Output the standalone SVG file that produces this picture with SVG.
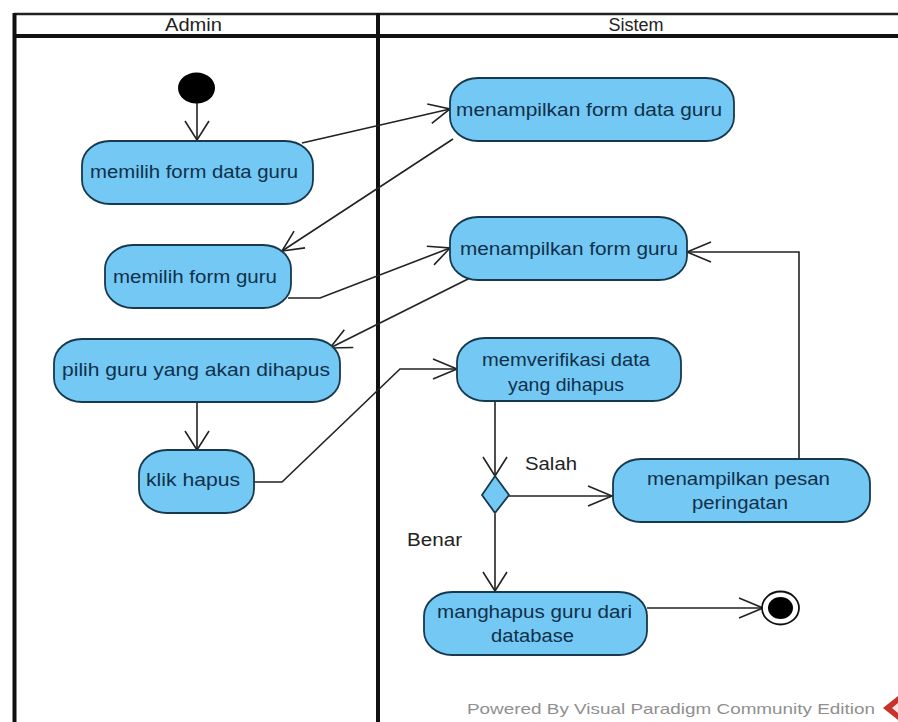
<svg xmlns="http://www.w3.org/2000/svg" width="898" height="722" viewBox="0 0 898 722">
<style>
text{font-family:"Liberation Sans",Arial,sans-serif;font-size:17.500px;text-anchor:middle;fill:#10304a}
.lane{fill:none;stroke:#111;stroke-width:4}
.top{fill:none;stroke:#222;stroke-width:2.600}
.act{fill:#74c8f4;stroke:#17394f;stroke-width:1.800}
.c{fill:none;stroke:#222;stroke-width:1.600}
.l{fill:#222}
</style>
<defs>
<marker id="a" markerUnits="userSpaceOnUse" markerWidth="30" markerHeight="30" refX="25" refY="12" orient="auto" overflow="visible"><path d="M4 2L25 12L4 22" fill="none" stroke="#222" stroke-width="1.600"/></marker>
<marker id="h" markerUnits="userSpaceOnUse" markerWidth="30" markerHeight="30" refX="25" refY="12" orient="auto" overflow="visible"><path d="M1 2L25 12L1 22" fill="none" stroke="#222" stroke-width="1.600"/></marker>
<marker id="v" markerUnits="userSpaceOnUse" markerWidth="30" markerHeight="30" refX="25" refY="12" orient="auto" overflow="visible"><path d="M6 0L25 12L6 24" fill="none" stroke="#222" stroke-width="1.600"/></marker>
</defs>
<rect width="898" height="722" fill="#fff"/>
<g id="swimlanes">
<path class="top" d="M14 14H898"/>
<path class="lane" d="M14.500 13V722M14 36H898M378 13V722"/>
<text class="l" x="193.500" y="31" textLength="57" lengthAdjust="spacingAndGlyphs">Admin</text><text class="l" x="636" y="31" textLength="55" lengthAdjust="spacingAndGlyphs">Sistem</text>
</g>
<g id="connectors">
<path class="c" marker-end="url(#v)" d="M197 103V140"/>
<path class="c" marker-end="url(#a)" d="M302 143L450 109"/>
<path class="c" marker-end="url(#a)" d="M453 139L282 251"/>
<path class="c" marker-end="url(#a)" d="M288 298H320L450 248"/>
<path class="c" marker-end="url(#a)" d="M470 278L330 348"/>
<path class="c" marker-end="url(#v)" d="M197 402V450"/>
<path class="c" marker-end="url(#h)" d="M253 482H282L400 369H457"/>
<path class="c" marker-end="url(#v)" d="M495 401V476"/>
<path class="c" marker-end="url(#h)" d="M509 496H612"/>
<path class="c" marker-end="url(#h)" d="M799 459V252H687"/>
<path class="c" marker-end="url(#v)" d="M495 514V591"/>
<path class="c" marker-end="url(#h)" d="M647 608H763"/>
</g>
<g id="start"><ellipse cx="196.500" cy="88" rx="18.500" ry="15.500" fill="#000"/></g>
<g id="n1"><rect class="act" x="82" y="141" width="231" height="63" rx="28" ry="24"/><text x="194" y="178" textLength="208" lengthAdjust="spacingAndGlyphs">memilih form data guru</text></g>
<g id="n2"><rect class="act" x="450" y="78" width="284" height="63" rx="28" ry="24"/><text x="589" y="116" textLength="266" lengthAdjust="spacingAndGlyphs">menampilkan form data guru</text></g>
<g id="n3"><rect class="act" x="105" y="245" width="186" height="63" rx="28" ry="24"/><text x="195" y="283" textLength="164" lengthAdjust="spacingAndGlyphs">memilih form guru</text></g>
<g id="n4"><rect class="act" x="450" y="217" width="237" height="63" rx="28" ry="24"/><text x="569" y="255" textLength="218" lengthAdjust="spacingAndGlyphs">menampilkan form guru</text></g>
<g id="n5"><rect class="act" x="54" y="339" width="286" height="63" rx="28" ry="24"/><text x="196" y="376" textLength="268" lengthAdjust="spacingAndGlyphs">pilih guru yang akan dihapus</text></g>
<g id="n6"><rect class="act" x="457" y="338" width="224" height="63" rx="28" ry="24"/><text x="566" y="366" textLength="168" lengthAdjust="spacingAndGlyphs">memverifikasi data</text><text x="566" y="391" textLength="116" lengthAdjust="spacingAndGlyphs">yang dihapus</text></g>
<g id="n7"><rect class="act" x="139" y="450" width="115" height="63" rx="28" ry="24"/><text x="193" y="486" textLength="94" lengthAdjust="spacingAndGlyphs">klik hapus</text></g>
<g id="n8"><rect class="act" x="613" y="459" width="257" height="63" rx="28" ry="24"/><text x="738.500" y="485" textLength="183" lengthAdjust="spacingAndGlyphs">menampilkan pesan</text><text x="740" y="509" textLength="96" lengthAdjust="spacingAndGlyphs">peringatan</text></g>
<g id="decision"><path class="act" d="M495 476L509 495L495 513L482 495Z"/></g>
<g id="n9"><rect class="act" x="424" y="592" width="223" height="63" rx="28" ry="24"/><text x="534.500" y="618" textLength="195" lengthAdjust="spacingAndGlyphs">manghapus guru dari</text><text x="532.500" y="642" textLength="83" lengthAdjust="spacingAndGlyphs">database</text></g>
<g id="end"><ellipse cx="780.500" cy="608" rx="18.500" ry="16.500" fill="#fff" stroke="#111" stroke-width="1.800"/><ellipse cx="780.500" cy="608" rx="12.500" ry="11" fill="#000"/></g>
<g id="labels">
<text class="l" x="551" y="470" textLength="52" lengthAdjust="spacingAndGlyphs">Salah</text><text class="l" x="434.500" y="546" textLength="55" lengthAdjust="spacingAndGlyphs">Benar</text>
<text x="671" y="714" textLength="408" lengthAdjust="spacingAndGlyphs" style="font-size:15px;fill:#8f8f8f">Powered By  Visual Paradigm Community Edition</text>
<path d="M898 696L883 708L898 720Z" fill="#c8322c"/><path d="M898 703L892 708L898 713Z" fill="#fbe4e2"/>
</g>
</svg>
